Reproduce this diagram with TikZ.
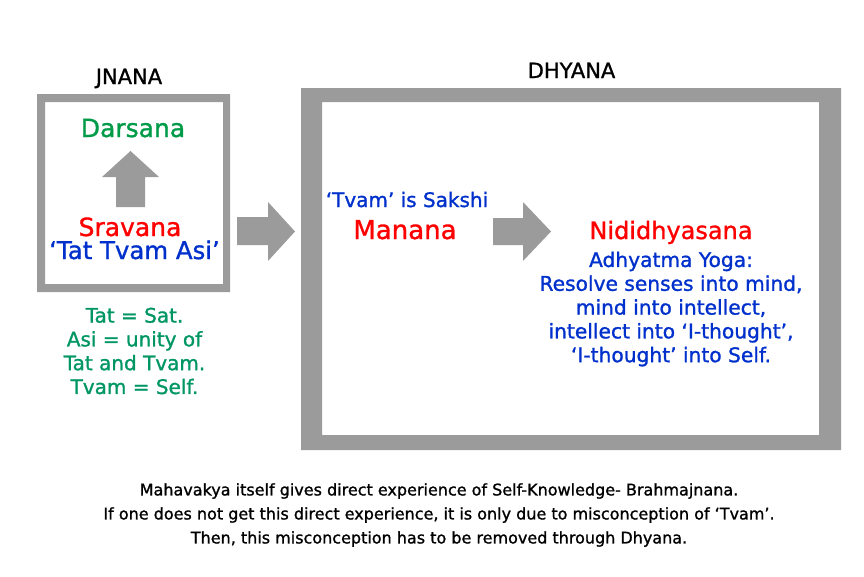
\documentclass[tikz,border=0pt]{standalone}
\usepackage{fontspec}
\setmainfont{DejaVu Sans}[FakeBold=1.2]
\definecolor{boxgray}{RGB}{155,155,155}
\definecolor{dgreen}{RGB}{0,155,72}
\definecolor{tgreen}{RGB}{0,150,100}
\definecolor{kblue}{RGB}{0,48,204}
\definecolor{kred}{RGB}{255,0,0}
\begin{document}
\begin{tikzpicture}[x=1pt,y=-1pt,
  title/.style={anchor=base,inner sep=0pt,font=\fontsize{21}{24}\selectfont},
  word/.style={anchor=base,inner sep=0pt,font=\fontsize{25}{30}\selectfont},
  note/.style={inner sep=0pt,align=center,font=\fontsize{20.2}{23.8}\selectfont},
  blockarrow/.style={fill=boxgray}]

\useasboundingbox (0,0) rectangle (864,576);

% Jnana
\fill[boxgray,even odd rule] (37,94) rectangle (230,292) (45,102) rectangle (223,284);
\node[title] (jnana) at (129,84) {JNANA};
\node[word,text=dgreen] (darsana) at (133,137) {Darsana};
\fill[blockarrow] (116,207) -- (116,177) -- (102,177) -- (130.5,151)
  -- (159,177) -- (145,177) -- (145,207) -- cycle;
\node[word,text=kred] (sravana) at (130,236) {Sravana};
\node[word,text=kblue,font=\fontsize{24.4}{29}\selectfont] (tatvam) at (134.5,259) {‘Tat Tvam Asi’};
\node[note,text=tgreen,font=\fontsize{20}{23.8}\selectfont] (tatnotes) at (134.5,351)
{Tat = Sat.\\ Asi = unity of\\ Tat and Tvam.\\ Tvam = Self.};

% Jnana to Dhyana
\fill[blockarrow] (237,217) -- (268,217) -- (268,202) -- (295,231.5)
  -- (268,261) -- (268,245) -- (237,245) -- cycle;

% Dhyana
\fill[boxgray,even odd rule] (301,88) rectangle (841,450) (322,102) rectangle (819,435);
\node[title] (dhyana) at (571.5,78) {DHYANA};
\node[anchor=base,inner sep=0pt,text=kblue,font=\fontsize{20}{24}\selectfont] (sakshi) at (407,207) {‘Tvam’ is Sakshi};
\node[word,text=kred,font=\fontsize{26}{30}\selectfont] (manana) at (405,239) {Manana};
\fill[blockarrow] (493,218) -- (523,218) -- (523,202) -- (551,231.5)
  -- (523,261) -- (523,245) -- (493,245) -- cycle;
\node[word,text=kred,font=\fontsize{24}{28}\selectfont] (nididhyasana) at (671,239) {Nididhyasana};
\node[note,text=kblue] (yoga) at (671,309)
{Adhyatma Yoga:\\ Resolve senses into mind,\\ mind into intellect,\\ intellect into ‘I-thought’,\\ ‘I-thought’ into Self.};

% Remarks
\node[inner sep=0pt,align=center,font=\fontsize{16}{24}\selectfont] (remarks) at (439,515)
{Mahavakya itself gives direct experience of Self-Knowledge- Brahmajnana.\\
If one does not get this direct experience, it is only due to misconception of ‘Tvam’.\\
Then, this misconception has to be removed through Dhyana.};

\end{tikzpicture}
\end{document}
